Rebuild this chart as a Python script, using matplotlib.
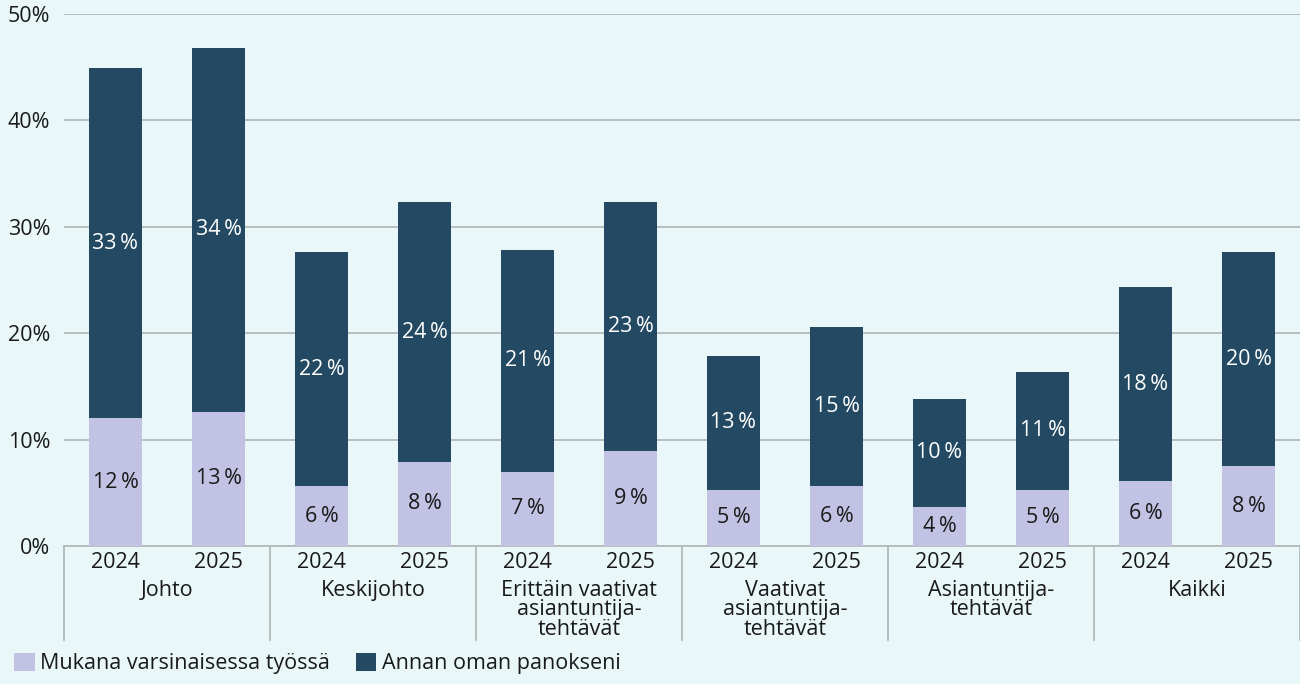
import matplotlib.pyplot as plt
from matplotlib.patches import Patch

groups = ['Johto', 'Keskijohto', 'Erittäin vaativat\nasiantuntija-\ntehtävät',
          'Vaativat\nasiantuntija-\ntehtävät', 'Asiantuntija-\ntehtävät', 'Kaikki']
years = ['2024', '2025']
# per bar, group by group
mukana = [12.0, 12.6, 5.6, 7.9, 7.0, 8.9, 5.3, 5.6, 3.7, 5.3, 6.1, 7.5]
annan = [32.9, 34.2, 22.0, 24.4, 20.8, 23.4, 12.6, 15.0, 10.1, 11.1, 18.2, 20.1]
mukana_lbl = [12, 13, 6, 8, 7, 9, 5, 6, 4, 5, 6, 8]
annan_lbl = [33, 34, 22, 24, 21, 23, 13, 15, 10, 11, 18, 20]
series_names = ['Mukana varsinaisessa työssä', 'Annan oman panokseni']

bg = '#e9f7f8'
c_light = '#c2c3e4'
c_dark = '#234a62'
grid_c = '#b3b9ba'
txt = '#1a1a1a'
fs = 15.5

plt.rcParams['font.family'] = ['Open Sans', 'DejaVu Sans']

fig = plt.figure(figsize=(13, 6.84), dpi=100)
fig.set_facecolor(bg)
ax = fig.add_axes([64 / 1300, 1 - 546 / 684, 1 - 64 / 1300, (546 - 14) / 684])
ax.set_facecolor(bg)

x = list(range(len(mukana)))
ax.bar(x, mukana, 0.51, color=c_light, zorder=3)
ax.bar(x, annan, 0.51, bottom=mukana, color=c_dark, zorder=3)

for i in x:
    ax.text(i, mukana[i] / 2, f'{mukana_lbl[i]}\u2009%', ha='center', va='center',
            fontsize=fs, color=txt, zorder=4)
    ax.text(i, mukana[i] + annan[i] / 2, f'{annan_lbl[i]}\u2009%', ha='center', va='center',
            fontsize=fs, color='white', zorder=4)

ax.set_xlim(-0.5, len(mukana) - 0.5)
ax.set_ylim(0, 50)
ax.set_yticks(range(0, 51, 10))
ax.set_yticklabels([f'{v}%' for v in range(0, 51, 10)])
ax.yaxis.grid(True, color=grid_c, lw=1.3, zorder=1)
ax.tick_params(axis='y', length=0, pad=10, labelsize=fs, labelcolor=txt)
ax.set_xticks(x)
ax.set_xticklabels(years * len(groups))
ax.tick_params(axis='x', length=0, pad=4, labelsize=fs, labelcolor=txt)
for s in ['top', 'right', 'left']:
    ax.spines[s].set_visible(False)
ax.spines['bottom'].set_color(grid_c)
ax.spines['bottom'].set_linewidth(1.3)

trans = ax.get_xaxis_transform()
sep_bottom = -(640 - 546) / 532
for k in range(len(groups) + 1):
    xs = 2 * k - 0.5
    ax.plot([xs, xs], [0, sep_bottom], transform=trans, color=grid_c, lw=1.3, clip_on=False)
for k, g in enumerate(groups):
    ax.text(2 * k + 0.5, -(580 - 546) / 532, g, transform=trans, ha='center', va='top',
            fontsize=fs, color=txt, linespacing=0.9)

handles = [Patch(facecolor=c_light), Patch(facecolor=c_dark)]
fig.legend(handles, series_names, loc='lower left', bbox_to_anchor=(-0.004, -0.014), ncol=2,
           frameon=False, fontsize=fs, handlelength=0.95, handleheight=0.95,
           handletextpad=0.25, columnspacing=1.2, labelcolor=txt)

fig.savefig('out.png', dpi=100, facecolor=bg)
